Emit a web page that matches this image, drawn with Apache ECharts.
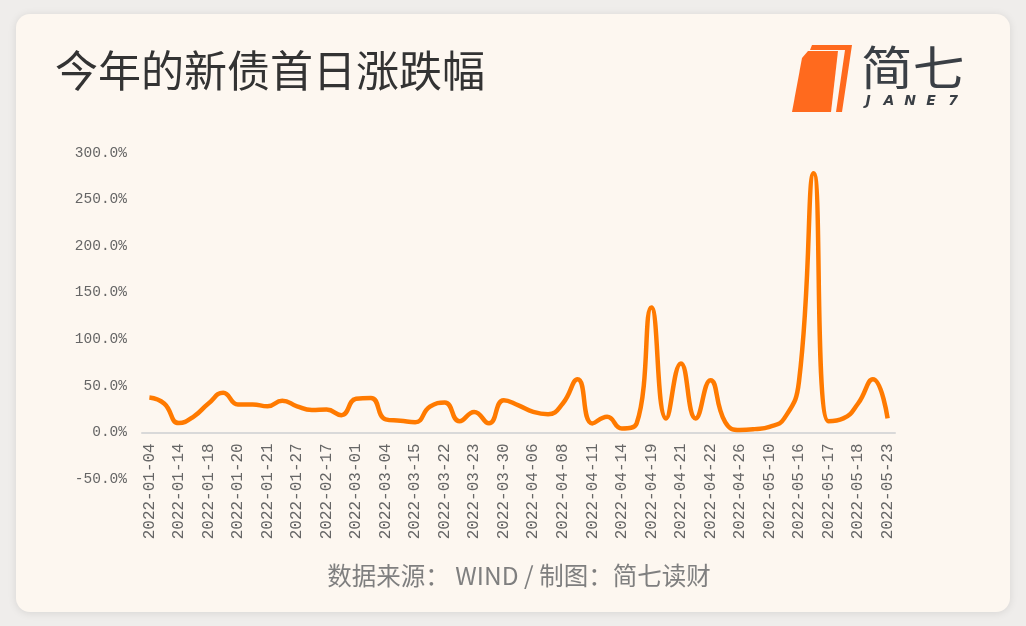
<!DOCTYPE html>
<html>
<head>
<meta charset="utf-8">
<script src="https://cdn.jsdelivr.net/npm/echarts@6/dist/echarts.min.js"></script>
<style>
html,body{margin:0;padding:0;background:#EFEDEB;}
#c{width:1026px;height:626px;}
</style>
</head>
<body>
<div id="c"></div>
<script>
const titleText = '今年的新债首日涨跌幅';
const sourceText = '数据来源： WIND / 制图：简七读财';
const categories = [
  '2022-01-04','2022-01-07','2022-01-14','2022-01-17','2022-01-18','2022-01-19','2022-01-20','2022-01-20','2022-01-21','2022-01-25',
  '2022-01-27','2022-02-15','2022-02-17','2022-02-23','2022-03-01','2022-03-02','2022-03-04','2022-03-11','2022-03-15','2022-03-18',
  '2022-03-22','2022-03-22','2022-03-23','2022-03-25','2022-03-30','2022-04-01','2022-04-06','2022-04-07','2022-04-08','2022-04-08',
  '2022-04-11','2022-04-12','2022-04-14','2022-04-18','2022-04-19','2022-04-20','2022-04-21','2022-04-21','2022-04-22','2022-04-25',
  '2022-04-26','2022-04-27','2022-05-10','2022-05-13','2022-05-16','2022-05-17','2022-05-17','2022-05-17','2022-05-18','2022-05-19',
  '2022-05-23'
];
const firstDayChange = [
  37.5, 31, 10, 17, 31, 42.5, 30, 30, 28, 34,
  28, 24, 24.5, 18.5, 36, 37, 14, 12.5, 11, 27.5,
  32, 12, 22, 9.7, 34.5, 29, 22, 19.5, 31, 57,
  9.6, 16.8, 4.3, 9.6, 134, 15, 74, 15, 56, 11,
  2.5, 3.5, 6, 15, 55, 278, 12, 15, 31, 57,
  15
];
const yMin = -50, yMax = 300, yStep = 50;

const chart = echarts.init(document.getElementById('c'), null, {renderer:'canvas'});
const axisFont = '"Liberation Mono", "DejaVu Sans Mono", monospace';
const logoLetter = (t, x) => ({type:'text', x:x, y:101, style:{text:t, font:'italic bold 14px "DejaVu Sans"', fill:'#3A3F45', align:'center', verticalAlign:'middle'}});
chart.setOption({
  backgroundColor: '#EFEDEB',
  animation: false,
  graphic: [
    {type:'rect', z:-10, shape:{x:16,y:14,width:994,height:598,r:14},
     style:{fill:'#FDF7F0', shadowBlur:8, shadowColor:'rgba(0,0,0,0.10)', shadowOffsetY:1}},
    {type:'text', left:55, top:49, style:{text:titleText, font:'normal 43px "Noto Sans CJK SC"', fill:'#333333'}},
    // logo
    {type:'polygon', shape:{points:[[792,112],[802,58],[808,51],[838,51],[831,112]]}, style:{fill:'#FF6A1E'}},
    {type:'polygon', shape:{points:[[812,45],[852,45],[842,112],[836,112],[845,50],[810,50]]}, style:{fill:'#FF6A1E'}},
    {type:'text', x:861, y:44, scaleX:1.1, style:{text:'简七', font:'normal 47px "Noto Sans CJK SC"', fill:'#3A3F45', verticalAlign:'top'}},
    logoLetter('J',868), logoLetter('A',889), logoLetter('N',910), logoLetter('E',931), logoLetter('7',953),
    {type:'text', x:519, y:576, style:{text:sourceText, font:'normal 24.5px "Noto Sans CJK SC"', fill:'#7F7F7F', align:'center', verticalAlign:'middle'}}
  ],
  grid: {left:142, right:131, top:152.7, bottom:147, containLabel:false},
  xAxis: {
    type:'category', data: categories, boundaryGap:true, position:'bottom', offset:-46.7,
    axisLine:{show:true, onZero:false, lineStyle:{color:'#D9D9D9', width:2}},
    axisTick:{show:false},
    axisLabel:{interval:1, rotate:90, margin:11, fontFamily:axisFont, fontSize:16, color:'#666666'}
  },
  yAxis: {
    type:'value', min:yMin, max:yMax, interval:yStep,
    axisLine:{show:false}, axisTick:{show:false}, splitLine:{show:false},
    axisLabel:{margin:15, fontFamily:axisFont, fontSize:14.5, color:'#666666',
      formatter: v => v.toFixed(1) + '%'}
  },
  series: [{
    type:'line', data: firstDayChange, smooth:0.5, showSymbol:false,
    lineStyle:{color:'#FF7A00', width:4.5}
  }]
});
</script>
</body>
</html>
